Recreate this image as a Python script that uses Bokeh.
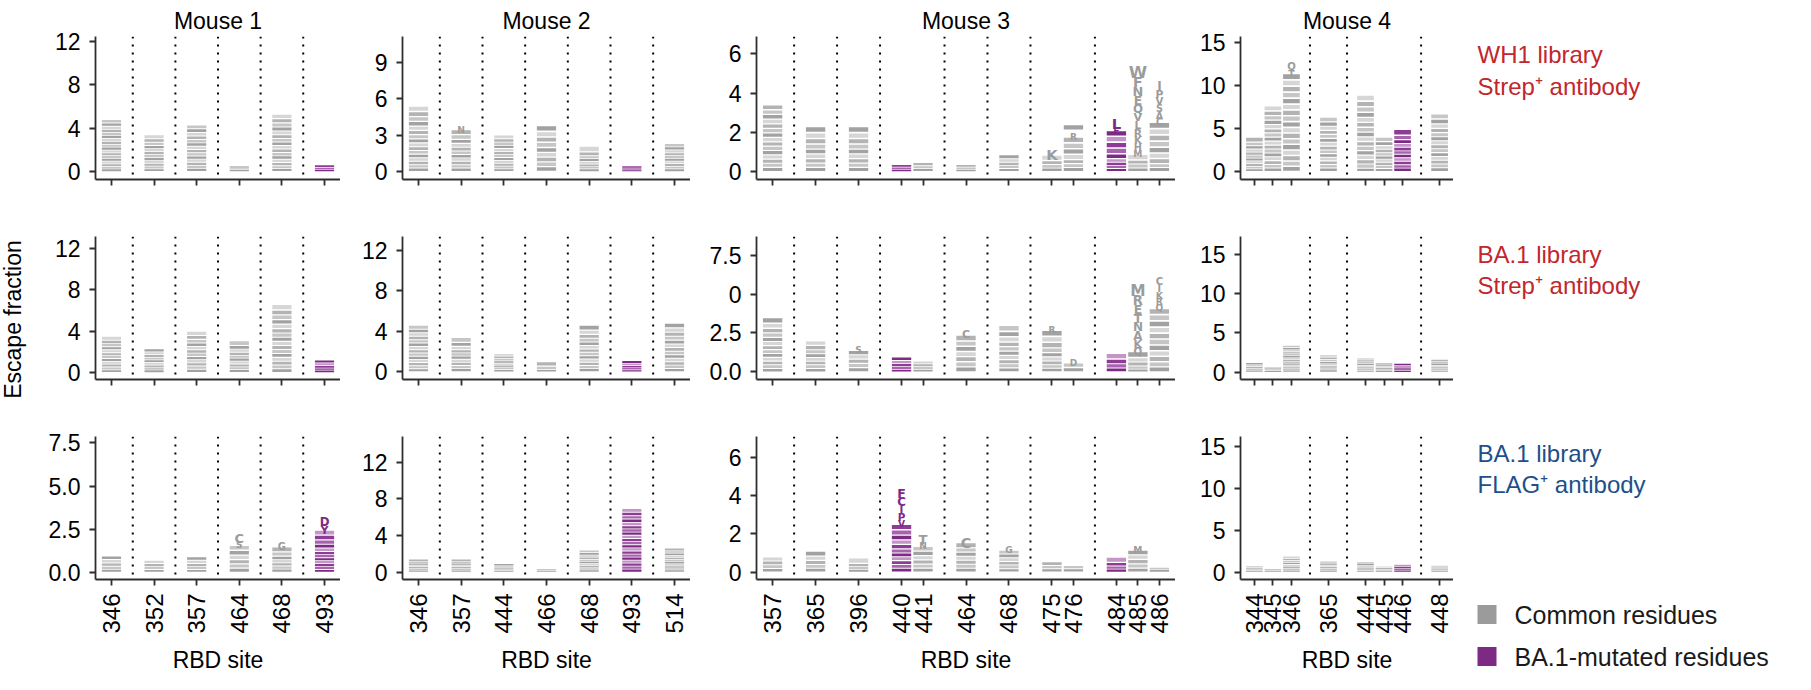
import numpy as np
from bokeh.plotting import figure
from bokeh.layouts import row, column
from bokeh.models import FixedTicker, Span, Range1d, ColumnDataSource
from bokeh.core.properties import value, field
from bokeh.embed import file_html
from bokeh.resources import INLINE

# ------------------------------------------------------------------ data
MOUSE_TITLES = ["Mouse 1", "Mouse 2", "Mouse 3", "Mouse 4"]
ROW_LABELS = [("WH1 library", "Strep\u207a antibody"),
              ("BA.1 library", "Strep\u207a antibody"),
              ("BA.1 library", "FLAG\u207a antibody")]
LEGEND_LABELS = ["Common residues", "BA.1-mutated residues"]
Y_TITLE = "Escape fraction"
X_TITLE = "RBD site"

SITES_M1 = [346, 352, 357, 464, 468, 493]
POS_M1 = [0, 2, 4, 6, 8, 10]
SITES_M2 = [346, 357, 444, 466, 468, 493, 514]
POS_M2 = [0, 2, 4, 6, 8, 10, 12]
SITES_M3 = [357, 365, 396, 440, 441, 464, 468, 475, 476, 484, 485, 486]
POS_M3 = [0, 2, 4, 6, 7, 9, 11, 13, 14, 16, 17, 18]
SITES_M4 = [344, 345, 346, 365, 444, 445, 446, 448]
POS_M4 = [0, 1, 2, 4, 6, 7, 8, 10]
MUTATED_SITES = [440, 446, 484, 493]

# letters listed top -> bottom, heights = escape fraction of each letter
LET_R1_M1 = ["EQDNTSHKRAGYLMVIFW", "QKYCENSTRADG", "DQNEKSTRHAGLMY", "KRE", "GDQESNTHKRAYLMVI", "SLT"]
HGT_R1_M1 = [[0.32, 0.3, 0.29, 0.28, 0.28, 0.28, 0.27, 0.27, 0.27, 0.26, 0.26, 0.26, 0.25, 0.25, 0.25, 0.24, 0.24, 0.23],
             [0.38, 0.32, 0.3, 0.29, 0.28, 0.28, 0.27, 0.27, 0.26, 0.26, 0.25, 0.24],
             [0.36, 0.34, 0.33, 0.32, 0.31, 0.31, 0.3, 0.3, 0.3, 0.29, 0.29, 0.29, 0.28, 0.28],
             [0.18, 0.17, 0.15],
             [0.42, 0.4, 0.38, 0.36, 0.35, 0.34, 0.33, 0.33, 0.32, 0.32, 0.31, 0.31, 0.3, 0.3, 0.27, 0.26],
             [0.22, 0.2, 0.18]]
LET_R1_M2 = ["EDPVMSKNHTQRAGLY", "NEDHKSTQRAGL", "GSNRTKQEADHL", "SIMHQCLAT", "NEIGKSRT", "LMI", "KHRQNETSAG"]
HGT_R1_M2 = [[0.45, 0.42, 0.4, 0.38, 0.36, 0.35, 0.34, 0.33, 0.32, 0.31, 0.3, 0.3, 0.29, 0.28, 0.28, 0.28],
             [0.55, 0.42, 0.38, 0.34, 0.32, 0.3, 0.29, 0.28, 0.28, 0.28, 0.28, 0.28],
             [0.3, 0.28, 0.27, 0.26, 0.25, 0.25, 0.24, 0.24, 0.24, 0.23, 0.22, 0.22],
             [0.5, 0.45, 0.45, 0.42, 0.4, 0.4, 0.38, 0.4, 0.4],
             [0.5, 0.3, 0.25, 0.22, 0.22, 0.2, 0.2, 0.21],
             [0.17, 0.15, 0.13],
             [0.27, 0.25, 0.24, 0.23, 0.23, 0.22, 0.22, 0.22, 0.21, 0.21]]
LET_R1_M3 = ["SDTGNWAEKQRHLMY", "EKNSQTRDA", "ESARTKQNG", "STN", "KRQ", "CSN", "GRKNS", "KREGS",
             "QRCDYHNSE", "LFIVHPWYMQT", "WFNEQVLRKHMYSTA", "IPVSACGNLQRTKEM"]
HGT_R1_M3 = [[0.25, 0.24, 0.24, 0.24, 0.23, 0.23, 0.23, 0.23, 0.22, 0.22, 0.22, 0.22, 0.21, 0.21, 0.21],
             [0.32, 0.3, 0.28, 0.26, 0.24, 0.24, 0.23, 0.22, 0.21],
             [0.32, 0.3, 0.28, 0.26, 0.24, 0.24, 0.23, 0.22, 0.21],
             [0.13, 0.12, 0.1],
             [0.16, 0.15, 0.14],
             [0.13, 0.12, 0.1],
             [0.2, 0.18, 0.17, 0.15, 0.15],
             [0.55, 0.3, 0.2, 0.18, 0.17],
             [0.3, 0.34, 0.3, 0.3, 0.28, 0.28, 0.2, 0.2, 0.2],
             [0.55, 0.35, 0.3, 0.3, 0.3, 0.3, 0.25, 0.18, 0.16, 0.16, 0.15],
             [0.62, 0.52, 0.48, 0.46, 0.44, 0.42, 0.4, 0.4, 0.38, 0.36, 0.34, 0.3, 0.2, 0.2, 0.18],
             [0.45, 0.4, 0.38, 0.36, 0.35, 0.34, 0.33, 0.32, 0.32, 0.31, 0.3, 0.28, 0.26, 0.2, 0.2]]
LET_R1_M4 = ["DHYVIKSELNT", "SERDKLTHNMGCAQYV", "QTDNSAECVFMYGIPLWHK", "ENDQKHSRYTAGLV",
             "GTDSNVLYIHFREKAQ", "GERKSDTNQA", "KHILYRSTDAN", "QVRLGSTNKEAHDY"]
HGT_R1_M4 = [[0.6, 0.42, 0.38, 0.36, 0.34, 0.34, 0.32, 0.32, 0.32, 0.3, 0.3],
             [0.6, 0.55, 0.52, 0.5, 0.5, 0.48, 0.48, 0.47, 0.46, 0.46, 0.45, 0.45, 0.44, 0.44, 0.42, 0.4],
             [0.85, 0.78, 0.74, 0.72, 0.7, 0.7, 0.69, 0.68, 0.68, 0.67, 0.67, 0.66, 0.66, 0.65, 0.65, 0.64, 0.64, 0.62, 0.6],
             [0.55, 0.5, 0.48, 0.47, 0.46, 0.45, 0.45, 0.44, 0.43, 0.42, 0.42, 0.41, 0.41, 0.41],
             [0.75, 0.65, 0.62, 0.6, 0.58, 0.57, 0.56, 0.55, 0.54, 0.54, 0.53, 0.52, 0.52, 0.5, 0.5, 0.37],
             [0.55, 0.45, 0.42, 0.4, 0.38, 0.37, 0.36, 0.36, 0.36, 0.35],
             [0.7, 0.5, 0.45, 0.44, 0.42, 0.4, 0.4, 0.4, 0.4, 0.4, 0.39],
             [0.62, 0.55, 0.52, 0.5, 0.48, 0.47, 0.46, 0.46, 0.45, 0.45, 0.44, 0.43, 0.44, 0.43]]

LET_R2_M1 = ["FQSEKNTRADGH", "QEKNRSTAG", "DNTKQESRAGHY", "CFLSQNTIKA", "NGPKRSQEDTAHLYMV", "LIMVS"]
HGT_R2_M1 = [[0.38, 0.33, 0.3, 0.29, 0.29, 0.28, 0.28, 0.28, 0.27, 0.27, 0.27, 0.26],
             [0.3, 0.27, 0.26, 0.25, 0.25, 0.25, 0.24, 0.24, 0.24],
             [0.42, 0.38, 0.35, 0.33, 0.33, 0.32, 0.32, 0.31, 0.31, 0.31, 0.31, 0.31],
             [0.5, 0.34, 0.3, 0.3, 0.28, 0.28, 0.28, 0.28, 0.27, 0.27],
             [0.55, 0.48, 0.46, 0.44, 0.43, 0.42, 0.41, 0.4, 0.4, 0.39, 0.38, 0.38, 0.37, 0.36, 0.36, 0.37],
             [0.28, 0.25, 0.24, 0.22, 0.21]]
LET_R2_M2 = ["GLHSWCQEKNTRAD", "NDEKSTQRAG", "KRNTSQEA", "QYS", "NPSKRQEDTAGHL", "LIMVS", "RFKMYEVQSTNAG"]
HGT_R2_M2 = [[0.4, 0.36, 0.34, 0.34, 0.33, 0.33, 0.32, 0.32, 0.32, 0.32, 0.31, 0.31, 0.3, 0.3],
             [0.5, 0.4, 0.32, 0.32, 0.31, 0.31, 0.31, 0.31, 0.31, 0.31],
             [0.26, 0.24, 0.22, 0.22, 0.22, 0.22, 0.21, 0.21],
             [0.45, 0.35, 0.2],
             [0.5, 0.42, 0.38, 0.36, 0.35, 0.34, 0.33, 0.33, 0.33, 0.32, 0.32, 0.31, 0.31],
             [0.26, 0.23, 0.22, 0.2, 0.19],
             [0.48, 0.42, 0.4, 0.38, 0.37, 0.36, 0.36, 0.35, 0.35, 0.34, 0.33, 0.33, 0.33]]
LET_R2_M3 = ["DNEHSTQKRAGLY", "GSPATQEK", "STNGKA", "LSTKN", "KRNQ", "CSQNITKA", "GRKNSTQEAD",
             "RKENCSTAQG", "DAS", "WLFY", "MRETNAKQSGDHL", "CIKRQGASNETVLHDY"]
HGT_R2_M3 = [[0.38, 0.32, 0.3, 0.28, 0.27, 0.26, 0.26, 0.25, 0.25, 0.24, 0.24, 0.23, 0.22],
             [0.3, 0.28, 0.26, 0.24, 0.24, 0.23, 0.23, 0.22],
             [0.42, 0.28, 0.28, 0.28, 0.27, 0.27],
             [0.22, 0.2, 0.19, 0.18, 0.16],
             [0.19, 0.18, 0.17, 0.16],
             [0.52, 0.4, 0.34, 0.33, 0.33, 0.33, 0.33, 0.32],
             [0.4, 0.35, 0.33, 0.3, 0.28, 0.28, 0.27, 0.27, 0.26, 0.26],
             [0.42, 0.4, 0.38, 0.36, 0.3, 0.28, 0.26, 0.24, 0.23, 0.23],
             [0.42, 0.3, 0.28],
             [0.38, 0.3, 0.27, 0.25],
             [0.72, 0.62, 0.58, 0.56, 0.56, 0.55, 0.52, 0.48, 0.4, 0.28, 0.25, 0.2, 0.18],
             [0.48, 0.45, 0.44, 0.43, 0.42, 0.41, 0.4, 0.4, 0.39, 0.38, 0.38, 0.37, 0.36, 0.35, 0.33, 0.32]]
LET_R2_M4 = ["KRSTN", "RKS", "KRNQSTEHDAGLYF", "ENDQKHST", "GTDSNKRE", "GERKSD", "KHILS", "QVRLGST"]
HGT_R2_M4 = [[0.26, 0.25, 0.24, 0.23, 0.22],
             [0.22, 0.2, 0.18],
             [0.3, 0.27, 0.26, 0.25, 0.25, 0.24, 0.24, 0.24, 0.23, 0.23, 0.23, 0.22, 0.22, 0.22],
             [0.3, 0.29, 0.28, 0.27, 0.27, 0.27, 0.26, 0.26],
             [0.25, 0.23, 0.23, 0.22, 0.22, 0.22, 0.22, 0.21],
             [0.22, 0.2, 0.2, 0.2, 0.19, 0.19],
             [0.25, 0.22, 0.22, 0.21, 0.2],
             [0.25, 0.24, 0.23, 0.23, 0.22, 0.22, 0.21]]

LET_R3_M1 = ["SKRTN", "QKRE", "DNKRS", "CSQNTIKA", "GPRKNSTE", "DYCLHFWIMKSNTA"]
HGT_R3_M1 = [[0.21, 0.2, 0.19, 0.18, 0.17],
             [0.19, 0.18, 0.17, 0.16],
             [0.2, 0.19, 0.18, 0.17, 0.16],
             [0.55, 0.38, 0.3, 0.28, 0.26, 0.25, 0.24, 0.24],
             [0.42, 0.3, 0.25, 0.2, 0.19, 0.18, 0.18, 0.18],
             [0.5, 0.45, 0.3, 0.28, 0.25, 0.22, 0.2, 0.18, 0.18, 0.17, 0.17, 0.17, 0.17, 0.16]]
LET_R3_M2 = ["KRSNTQE", "DNKRSTE", "KRNTS", "QY", "NPSKRQEDTA", "DYCLHFWIMKSNTAVPQRGE", "RFKMYEVQSTN"]
HGT_R3_M2 = [[0.22, 0.21, 0.2, 0.2, 0.19, 0.19, 0.19],
             [0.22, 0.21, 0.2, 0.2, 0.19, 0.19, 0.19],
             [0.2, 0.18, 0.18, 0.17, 0.17],
             [0.18, 0.17],
             [0.28, 0.26, 0.24, 0.24, 0.23, 0.23, 0.23, 0.23, 0.23, 0.23],
             [0.4, 0.38, 0.37, 0.36, 0.36, 0.35, 0.35, 0.35, 0.35, 0.34, 0.34, 0.34, 0.34, 0.34, 0.33, 0.33, 0.33, 0.33, 0.32, 0.32],
             [0.28, 0.25, 0.24, 0.24, 0.23, 0.23, 0.23, 0.23, 0.22, 0.22, 0.23]]
LET_R3_M3 = ["DNKS", "GSAKT", "STNK", "FCIPVYWMLHSTKNRA", "TNSKRQEA", "CSQNITKA", "GRKNSTE",
             "RKE", "DA", "WLFK", "MRETNA", "CI"]
HGT_R3_M3 = [[0.22, 0.2, 0.19, 0.19],
             [0.26, 0.23, 0.21, 0.2, 0.2],
             [0.3, 0.16, 0.15, 0.14],
             [0.48, 0.45, 0.4, 0.4, 0.35, 0.3, 0.28, 0.25, 0.24, 0.23, 0.22, 0.2, 0.2, 0.2, 0.2, 0.2],
             [0.5, 0.35, 0.25, 0.24, 0.22, 0.22, 0.21, 0.21],
             [0.55, 0.28, 0.22, 0.22, 0.21, 0.21, 0.21, 0.2],
             [0.35, 0.2, 0.2, 0.19, 0.19, 0.19, 0.18],
             [0.2, 0.18, 0.17],
             [0.18, 0.17],
             [0.3, 0.18, 0.17, 0.15],
             [0.35, 0.25, 0.24, 0.23, 0.22, 0.21],
             [0.13, 0.12]]
LET_R3_M4 = ["KRST", "RK", "KRNQSTEH", "ENDQKH", "GTDSNK", "GERK", "KHIL", "QVRL"]
HGT_R3_M4 = [[0.2, 0.19, 0.18, 0.18],
             [0.2, 0.2],
             [0.26, 0.24, 0.24, 0.24, 0.23, 0.23, 0.23, 0.23],
             [0.23, 0.22, 0.22, 0.21, 0.21, 0.21],
             [0.22, 0.2, 0.2, 0.2, 0.19, 0.19],
             [0.18, 0.18, 0.17, 0.17],
             [0.24, 0.22, 0.22, 0.22],
             [0.21, 0.2, 0.2, 0.19]]

YTICKS = [[[0, 4, 8, 12], [0, 3, 6, 9], [0, 2, 4, 6], [0, 5, 10, 15]],
          [[0, 4, 8, 12], [0, 4, 8, 12], [0.0, 2.5, 5.0, 7.5], [0, 5, 10, 15]],
          [[0.0, 2.5, 5.0, 7.5], [0, 4, 8, 12], [0, 2, 4, 6], [0, 5, 10, 15]]]
YTICK_LABELS = [[["0", "4", "8", "12"], ["0", "3", "6", "9"], ["0", "2", "4", "6"], ["0", "5", "10", "15"]],
                [["0", "4", "8", "12"], ["0", "4", "8", "12"], ["0.0", "2.5", "0", "7.5"], ["0", "5", "10", "15"]],
                [["0.0", "2.5", "5.0", "7.5"], ["0", "4", "8", "12"], ["0", "2", "4", "6"], ["0", "5", "10", "15"]]]

SITES = [SITES_M1, SITES_M2, SITES_M3, SITES_M4]
POS = [POS_M1, POS_M2, POS_M3, POS_M4]
LETTERS = [[LET_R1_M1, LET_R1_M2, LET_R1_M3, LET_R1_M4],
           [LET_R2_M1, LET_R2_M2, LET_R2_M3, LET_R2_M4],
           [LET_R3_M1, LET_R3_M2, LET_R3_M3, LET_R3_M4]]
HEIGHTS = [[HGT_R1_M1, HGT_R1_M2, HGT_R1_M3, HGT_R1_M4],
           [HGT_R2_M1, HGT_R2_M2, HGT_R2_M3, HGT_R2_M4],
           [HGT_R3_M1, HGT_R3_M2, HGT_R3_M3, HGT_R3_M4]]

# ------------------------------------------------------------------ style / layout
FONT = "Liberation Sans"
LOGO_FONT = "DejaVu Sans"
AXIS_COLOR = "#2e2e2e"
GRAY_TXT = "#9c9c9c"
PURPLE = "#7d2a84"
GRAY_STRIPES = ["#a2a2a2", "#c6c6c6", "#b3b3b3", "#d6d6d6"]
PURPLE_STRIPES = ["#7d2a84", "#a763ad", "#8d3b94", "#c396c7"]
ROW_COLORS = ["#c1272d", "#c1272d", "#1d4f8b"]
LEGEND_COLORS = ["#9b9b9b", PURPLE]

YLIMS = [[(-0.74, 12.46), (-0.66, 11.12), (-0.41, 6.89), (-0.93, 15.66)],
         [(-0.68, 13.16), (-0.76, 13.34), (-0.49, 8.70), (-0.94, 17.23)],
         [(-0.42, 7.87), (-0.81, 14.79), (-0.39, 7.12), (-0.89, 16.24)]]
FRAME_W = [245, 288, 419, 213]
LEFT_BORDER = [95, 62, 66, 65]
FRAME_H = 143
TOP_BORDER = [36, 37, 37]
BOTTOM_BORDER = [20, 20, 94]
LABEL_W = 342
TEXT_MIN_PX = 6.5
CAP = 0.729
Y_TITLE_LEFT_PX = 83      # distance of the y title centre left of the frame
Y_TITLE_UP_PX = 60        # height of the y title centre above the frame bottom


def style_axis(ax):
    ax.axis_line_color = AXIS_COLOR
    ax.axis_line_width = 1.8
    ax.major_tick_line_color = AXIS_COLOR
    ax.major_tick_line_width = 1.8
    ax.major_tick_in = 0
    ax.major_tick_out = 6
    ax.minor_tick_line_color = None
    ax.major_label_text_font = FONT
    ax.major_label_text_color = "black"
    ax.axis_label_text_font = FONT
    ax.axis_label_text_font_style = "normal"
    ax.axis_label_text_color = "black"
    ax.axis_label_text_font_size = "23px"


def make_panel(r, m):
    sites, pos = SITES[m], POS[m]
    ylo, yhi = YLIMS[r][m]
    xlo, xhi = -0.75, pos[-1] + 0.75
    p = figure(x_range=Range1d(xlo, xhi), y_range=Range1d(ylo, yhi),
               frame_width=FRAME_W[m], frame_height=FRAME_H,
               min_border_left=LEFT_BORDER[m], min_border_right=0,
               min_border_top=TOP_BORDER[r], min_border_bottom=BOTTOM_BORDER[r],
               title=MOUSE_TITLES[m] if r == 0 else None,
               output_backend="svg", toolbar_location=None, tools="")
    p.outline_line_color = None
    p.xgrid.visible = False
    p.ygrid.visible = False
    if r == 0:
        p.title.align = "center"
        p.title.text_font = FONT
        p.title.text_font_size = "23px"
        p.title.text_font_style = "normal"
        p.title.text_color = "black"
        p.title.standoff = 6
    xa, ya = p.xaxis[0], p.yaxis[0]
    style_axis(xa)
    style_axis(ya)
    xa.ticker = FixedTicker(ticks=pos)
    if r == 2:
        xa.major_label_overrides = {pp: str(s) for pp, s in zip(pos, sites)}
        xa.major_label_orientation = np.pi / 2
        xa.major_label_text_font_size = "24px"
        xa.major_label_standoff = 8
        xa.axis_label = X_TITLE
        xa.axis_label_standoff = 10
    else:
        xa.major_label_overrides = {pp: "" for pp in pos}
        xa.major_label_text_font_size = "1px"
        xa.major_label_standoff = 0
    ya.ticker = FixedTicker(ticks=YTICKS[r][m])
    ya.major_label_overrides = dict(zip(YTICKS[r][m], YTICK_LABELS[r][m]))
    ya.major_label_text_font_size = "23px"
    ya.major_label_standoff = 9

    ppx = FRAME_W[m] / (xhi - xlo)
    ppu = FRAME_H / (yhi - ylo)
    if r == 1 and m == 0:
        yt = p.text(x=[xlo - Y_TITLE_LEFT_PX / ppx], y=[ylo + Y_TITLE_UP_PX / ppu], text=[Y_TITLE],
                    angle=np.pi / 2, text_font=value(FONT), text_font_size="23px",
                    text_color="black", text_align="center", text_baseline="middle")
        yt.level = "overlay"

    # dotted separators between groups of adjacent sites
    for k in range(len(pos) - 1):
        if pos[k + 1] - pos[k] > 1:
            p.add_layout(Span(location=(pos[k] + pos[k + 1]) / 2, dimension="height",
                              line_color="black", line_width=2, line_dash="2 6"))

    # logo stacks
    rects = dict(x=[], y=[], h=[], c=[])
    texts = dict(x=[], y=[], t=[], fs=[], c=[])
    for i, s in enumerate(sites):
        mut = s in MUTATED_SITES
        letters = LETTERS[r][m][i][::-1]
        heights = HEIGHTS[r][m][i][::-1]
        y0 = 0.0
        for j, (L, h) in enumerate(zip(letters, heights)):
            hp = h * ppu
            if hp >= TEXT_MIN_PX:
                texts["x"].append(pos[i]); texts["y"].append(y0); texts["t"].append(L)
                texts["fs"].append(f"{hp / CAP:.1f}px")
                texts["c"].append(PURPLE if mut else GRAY_TXT)
            else:
                rects["x"].append(pos[i]); rects["y"].append(y0 + h / 2)
                rects["h"].append(h * 0.72)
                rects["c"].append((PURPLE_STRIPES if mut else GRAY_STRIPES)[j % 4])
            y0 += h
    p.rect(x="x", y="y", width=0.9, height="h", fill_color="c", line_color=None,
           source=ColumnDataSource(rects))
    p.text(x="x", y="y", text="t", text_font_size=field("fs"), text_color="c",
           text_font=value(LOGO_FONT), text_font_style="bold", text_align="center",
           text_baseline="alphabetic", source=ColumnDataSource(texts))
    return p


# positions below are in pixels from the top-left corner of each label figure
ROW_LABEL_Y = [[54, 86], [55, 86], [54, 85]]
LABEL_X = 24
LEGEND_Y = [215, 257]


def make_label_fig(r):
    top = TOP_BORDER[r]
    # same borders as the panels so that the frames line up; the y range is set so
    # that one data unit equals one pixel measured from the top of the figure
    p = figure(x_range=Range1d(0, LABEL_W), y_range=Range1d(top + FRAME_H, top),
               frame_width=LABEL_W, frame_height=FRAME_H, title=None,
               min_border_left=0, min_border_right=0,
               min_border_top=top, min_border_bottom=BOTTOM_BORDER[r],
               x_axis_location=None, y_axis_location=None,
               output_backend="svg", toolbar_location=None, tools="")
    p.outline_line_color = None
    p.xgrid.visible = False
    p.ygrid.visible = False
    t = p.text(x=[LABEL_X, LABEL_X], y=ROW_LABEL_Y[r], text=list(ROW_LABELS[r]),
               text_color=ROW_COLORS[r], text_font=value(FONT), text_font_size="24px",
               text_baseline="alphabetic", text_align="left")
    t.level = "overlay"
    if r == 2:
        g1 = p.rect(x=[LABEL_X + 9.5] * 2, y=LEGEND_Y, width=19, height=19,
                    fill_color=LEGEND_COLORS, line_color=None)
        g2 = p.text(x=[LABEL_X + 37] * 2, y=LEGEND_Y, text=LEGEND_LABELS, text_color="#1a1a1a",
                    text_font=value(FONT), text_font_size="25px", text_baseline="middle",
                    text_align="left")
        g1.level = "overlay"
        g2.level = "overlay"
    return p


rows = []
for r in range(3):
    figs = [make_panel(r, m) for m in range(4)]
    figs.append(make_label_fig(r))
    rows.append(row(*figs))
layout = column(*rows)

open("out.html", "w").write(file_html(layout, INLINE))
